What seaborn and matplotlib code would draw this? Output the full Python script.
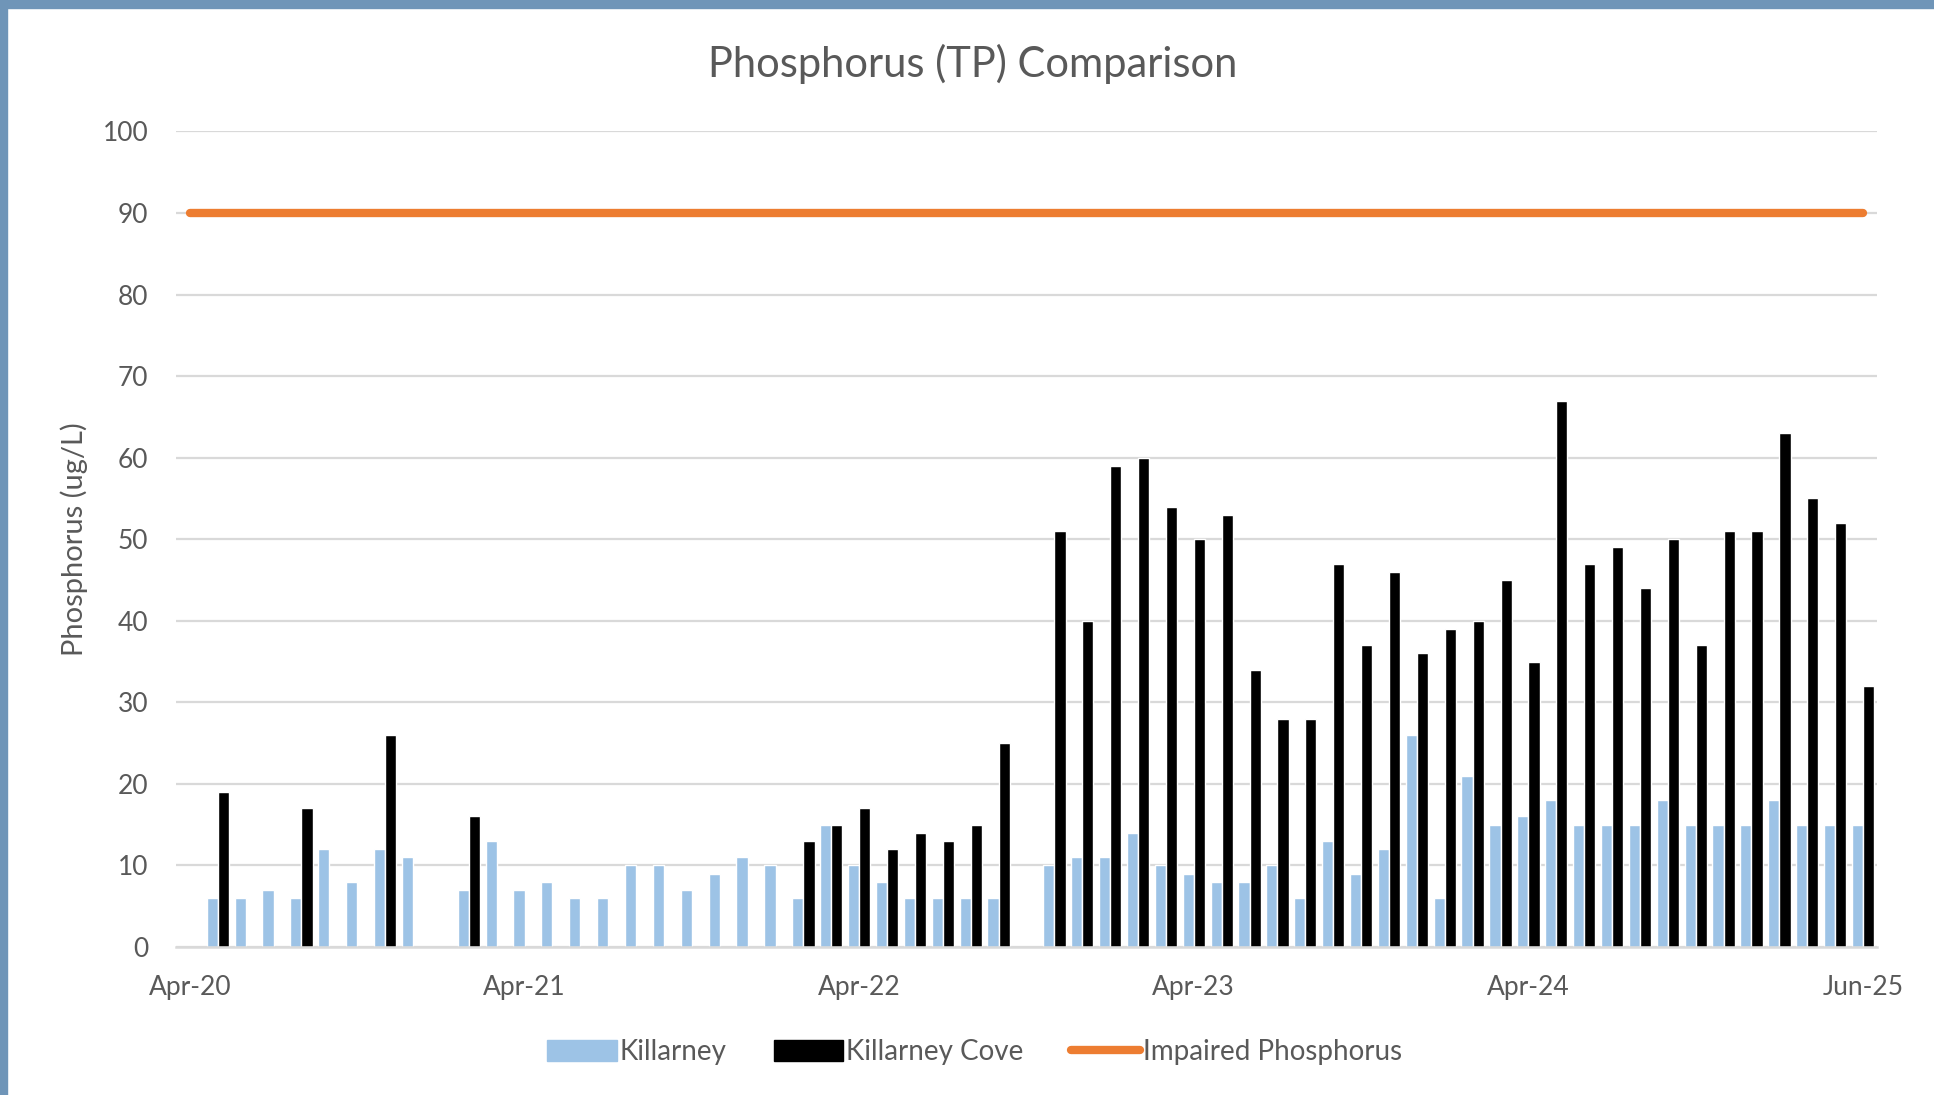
import numpy as np
import pandas as pd
import seaborn as sns
import matplotlib.pyplot as plt
from matplotlib.patches import Patch, Rectangle
from matplotlib.lines import Line2D

nan = np.nan

# one value per sampling slot (61 slots on the category axis)
killarney = [nan, 6, 6, 7, 6, 12, 8, 12, 11, nan,
             7, 13, 7, 8, 6, 6, 10, 10, 7, 9,
             11, 10, 6, 15, 10, 8, 6, 6, 6, 6,
             nan, 10, 11, 11, 14, 10, 9, 8, 8, 10,
             6, 13, 9, 12, 26, 6, 21, 15, 16, 18,
             15, 15, 15, 18, 15, 15, 15, 18, 15, 15,
             15]
killarney_cove = [nan, 19, nan, nan, 17, nan, nan, 26, nan, nan,
                  16, nan, nan, nan, nan, nan, nan, nan, nan, nan,
                  nan, nan, 13, 15, 17, 12, 14, 13, 15, 25,
                  nan, 51, 40, 59, 60, 54, 50, 53, 34, 28,
                  28, 47, 37, 46, 36, 39, 40, 45, 35, 67,
                  47, 49, 44, 50, 37, 51, 51, 63, 55, 52,
                  32]
impaired_level = 90

tick_pos = [0, 12, 24, 36, 48, 60]
tick_labels = ["Apr-20", "Apr-21", "Apr-22", "Apr-23", "Apr-24", "Jun-25"]
series = ["Killarney", "Killarney Cove", "Impaired Phosphorus"]

blue = "#9DC3E6"
black = "#000000"
orange = "#ED7D31"
grey_txt = "#595959"
grid_col = "#D9D9D9"

n = len(killarney)
cats = list(range(n))
df = pd.DataFrame({
    "slot": cats * 2,
    "series": [series[0]] * n + [series[1]] * n,
    "value": killarney + killarney_cove,
}).dropna()

sns.set_theme(style="white", rc={"axes.edgecolor": grid_col})
plt.rcParams["font.family"] = ["Lato", "DejaVu Sans"]

fig = plt.figure(figsize=(19.34, 10.95), dpi=100)
fig.patch.set_facecolor("white")
ax = fig.add_axes([0.091, 0.1352, 0.8795, 0.7448])

sns.barplot(data=df, x="slot", y="value", hue="series",
            order=cats, hue_order=series[:2], palette=[blue, black],
            width=0.8, dodge=True, errorbar=None, saturation=1,
            legend=False, ax=ax, zorder=2)

sns.lineplot(x=cats, y=[impaired_level] * n, color=orange, linewidth=6,
             solid_capstyle="round", ax=ax, zorder=3)

ax.set_xlim(-0.5, n - 0.5)
ax.set_ylim(0, 100)
ax.set_yticks(range(0, 101, 10))
ax.yaxis.grid(True, color=grid_col, linewidth=1.6)
ax.set_axisbelow(True)
ax.set_xlabel("")
ax.set_ylabel("")

for s in ["top", "right", "left"]:
    ax.spines[s].set_visible(False)
ax.spines["bottom"].set_color(grid_col)
ax.spines["bottom"].set_linewidth(1.8)

ax.set_xticks(tick_pos, tick_labels)
ax.set_xticks([p - 0.5 for p in tick_pos], minor=True)
ax.tick_params(axis="x", which="major", length=0, pad=20,
               labelsize=19, labelcolor=grey_txt)
ax.tick_params(axis="x", which="minor", length=8, width=1.8,
               color=grid_col, direction="out")
ax.tick_params(axis="y", length=0, pad=20, labelsize=19, labelcolor=grey_txt)

fig.text(973 / 1934, 1 - 64 / 1095, "Phosphorus (TP) Comparison",
         ha="center", va="center", fontsize=30, color=grey_txt)
fig.text(74 / 1934, 1 - 539 / 1095, "Phosphorus (ug/L)", rotation=90,
         ha="center", va="center", fontsize=21, color=grey_txt)

handles = [Patch(facecolor=blue, edgecolor=blue),
           Patch(facecolor=black, edgecolor=black),
           Line2D([0], [0], color=orange, linewidth=6, solid_capstyle="round")]
fig.legend(handles, series, loc="center", bbox_to_anchor=(0.504, 0.039),
           ncol=3, frameon=False, handlelength=2.5, handleheight=0.75,
           handletextpad=0.1, columnspacing=1.7, fontsize=20,
           labelcolor=grey_txt)

# screenshot frame edges
fig.patches.append(Rectangle((0, 1 - 8 / 1095), 1, 8 / 1095,
                             transform=fig.transFigure, color="#6f95b8"))
fig.patches.append(Rectangle((0, 0), 7 / 1934, 1,
                             transform=fig.transFigure, color="#6f95b8"))

fig.savefig("out.png", dpi=100)
